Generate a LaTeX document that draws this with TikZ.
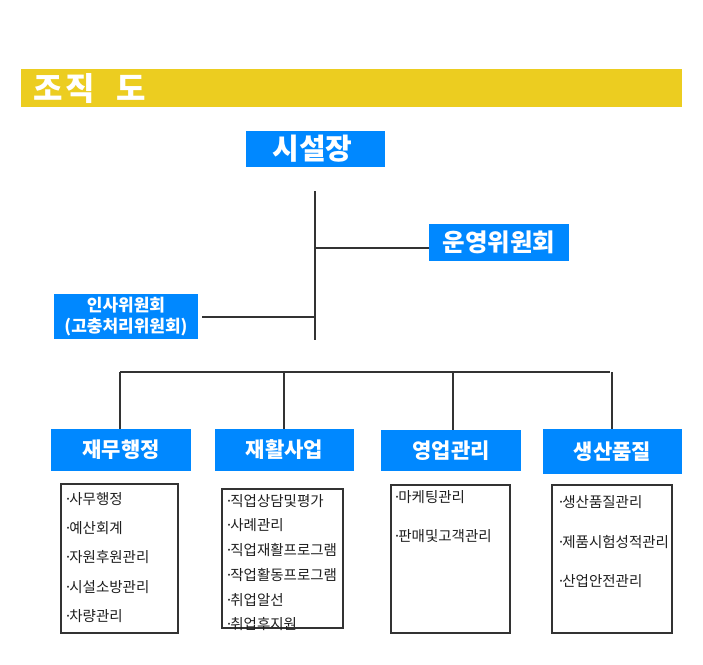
\documentclass[tikz,border=0pt]{standalone}
\usepackage{fontspec}
\setmainfont{Noto Sans CJK KR}
\definecolor{titleyellow}{HTML}{ECCD20}
\definecolor{boxblue}{HTML}{0088FF}
\definecolor{linegray}{HTML}{333333}
\definecolor{itemgray}{HTML}{1E1E1E}
\newcommand{\itdot}{·\kern-3pt}
\begin{document}
\begin{tikzpicture}[x=1pt,y=-1pt,
  bluebox/.style={fill=boxblue,text=white,inner sep=0pt,align=center},
  deptbox/.style={bluebox,font=\fontsize{21}{23}\selectfont\bfseries},
  listbox/.style={draw=linegray,line width=1.2pt,inner sep=0pt},
  itemtext/.style={anchor=west,inner sep=0pt,text=itemgray,font=\fontsize{14.5}{16}\selectfont},
  conn/.style={draw=linegray,line width=1.3pt}
]
\useasboundingbox (0,0) rectangle (703,664);

% title bar
\node[fill=titleyellow,inner sep=0pt,minimum width=661pt,minimum height=38pt,anchor=north west] (titlebar) at (21,69) {};
\node[anchor=west,inner sep=0pt,text=white,font=\fontsize{32}{34}\selectfont\bfseries] (titletext) at (33,89) {\spaceskip=1sp\relax 조\hspace{3pt} 직\hspace{21pt} 도};

% top level
\node[bluebox,minimum width=139pt,minimum height=36pt,font=\fontsize{29}{31}\selectfont\bfseries] (head) at (315.5,149) {\hspace{-6pt}시설장};
\node[bluebox,minimum width=140pt,minimum height=37pt,font=\fontsize{24.5}{26}\selectfont\bfseries] (ops) at (499,242.5) {운영위원회};
\node[bluebox,minimum width=144pt,minimum height=45pt,font=\fontsize{17}{21.5}\selectfont\bfseries] (hr) at (126,316.5) {인사위원회\\(고충처리위원회)};

% departments
\node[deptbox,minimum width=140pt,minimum height=42pt] (d1) at (121,450) {재무행정};
\node[deptbox,minimum width=139pt,minimum height=42pt] (d2) at (284.5,450) {재활사업};
\node[deptbox,minimum width=140pt,minimum height=41pt] (d3) at (451,450.5) {영업관리};
\node[deptbox,minimum width=139pt,minimum height=45pt] (d4) at (612.5,451.5) {생산품질};

% connectors
\coordinate (vtop) at (315,191);
\coordinate (vbot) at (315,340);
\coordinate (j1) at (315,248);
\coordinate (j2) at (315,317);
\coordinate (hrend) at (202,317);
\draw[conn] (vtop) -- (vbot);
\draw[conn] (j1) -- (j1 -| ops.west);
\draw[conn] (j2) -- (hrend);

\coordinate (b1) at (120,372);
\coordinate (b2) at (284,372);
\coordinate (b3) at (453,372);
\coordinate (b4) at (612,372);
\coordinate (bend) at (610,372);
\draw[conn] (b1) -- (bend);
\draw[conn] (b1) -- (b1 |- d1.north);
\draw[conn] (b2) -- (b2 |- d2.north);
\draw[conn] (b3) -- (b3 |- d3.north);
\draw[conn] (b4) -- (b4 |- d4.north);

% list boxes
\node[listbox,minimum width=117pt,minimum height=149pt] (l1) at (119.5,558.5) {};
\node[listbox,minimum width=121pt,minimum height=139pt] (l2) at (282.5,558.5) {};
\node[listbox,minimum width=119pt,minimum height=148pt] (l3) at (450.5,559) {};
\node[listbox,minimum width=120pt,minimum height=148pt] (l4) at (612,559) {};

\node[itemtext] (i11) at (64,499) {\itdot 사무행정};
\node[itemtext] (i12) at (64,528) {\itdot 예산회계};
\node[itemtext] (i13) at (64,557) {\itdot 자원후원관리};
\node[itemtext] (i14) at (64,587) {\itdot 시설소방관리};
\node[itemtext] (i15) at (64,616) {\itdot 차량관리};

\node[itemtext] (i21) at (225,501) {\itdot 직업상담및평가};
\node[itemtext] (i22) at (225,525) {\itdot 사례관리};
\node[itemtext] (i23) at (225,550) {\itdot 직업재활프로그램};
\node[itemtext] (i24) at (225,575) {\itdot 작업활동프로그램};
\node[itemtext] (i25) at (225,600) {\itdot 취업알선};
\node[itemtext] (i26) at (225,624) {\itdot 취업후지원};

\node[itemtext] (i31) at (393,497) {\itdot 마케팅관리};
\node[itemtext] (i32) at (393,536) {\itdot 판매및고객관리};

\node[itemtext] (i41) at (557,502) {\itdot 생산품질관리};
\node[itemtext] (i42) at (557,542) {\itdot 제품시험성적관리};
\node[itemtext] (i43) at (557,581) {\itdot 산업안전관리};
\end{tikzpicture}
\end{document}
